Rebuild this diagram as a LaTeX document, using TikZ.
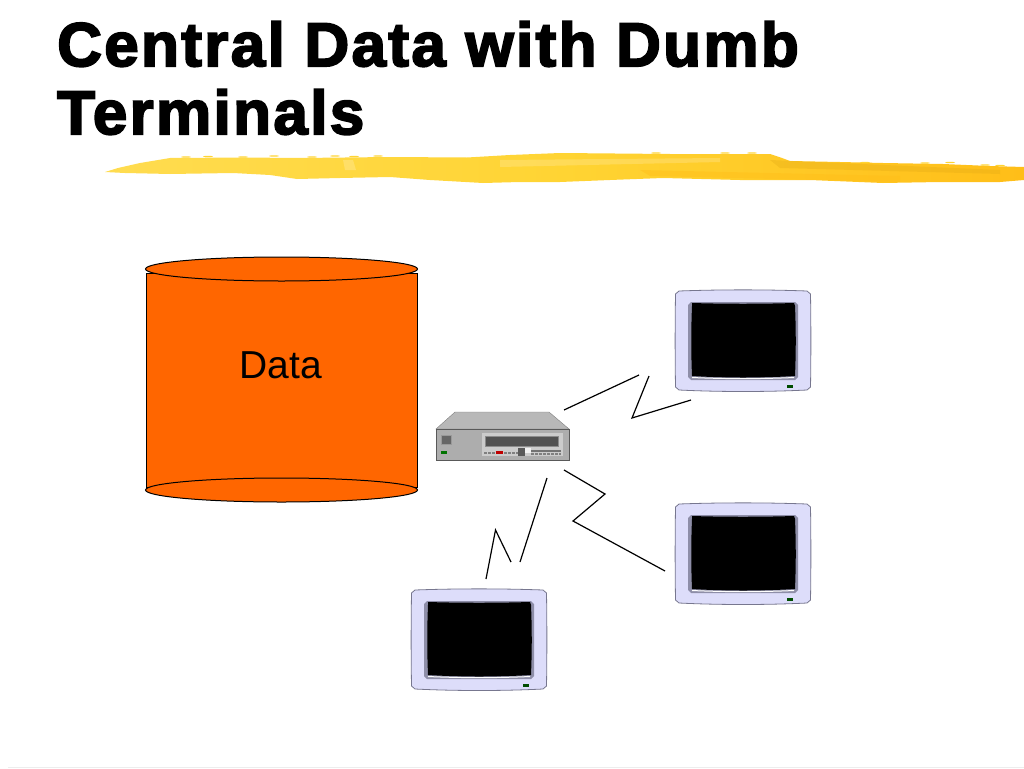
\documentclass[tikz,border=0pt]{standalone}
\usepackage{fontspec}
\usetikzlibrary{shapes.geometric}
\setmainfont{Liberation Sans}
\newfontfamily\titlefont[LetterSpace=3.8,BoldFeatures={FakeBold=3}]{Liberation Sans}
\definecolor{tankorange}{HTML}{FF6600}
\definecolor{monitorblue}{HTML}{DDDDFA}
\definecolor{monitoredge}{HTML}{77778F}
\definecolor{bezelgray}{HTML}{8E8EA8}
\definecolor{brushlight}{HTML}{FFDC50}
\definecolor{brushmid}{HTML}{FFD433}
\definecolor{brushdark}{HTML}{FFBE18}
\tikzset{
    wire/.style={line width=1.2pt,black},
    tank/.style={draw=black,line width=1pt,fill=tankorange},
    monitorbody/.style={draw=monitoredge,line width=0.8pt,fill=monitorblue},
}
\newcommand{\drawmonitor}[2]{
    \begin{scope}[shift={(#1,#2)}]
        \draw[monitorbody] (4,0) .. controls (45,-1.5) and (91,-1.5) .. (132,0) -- (135.5,3)
            .. controls (136,35) and (136,65) .. (135.5,96) -- (132,99)
            .. controls (91,101) and (45,101) .. (4,99) -- (0.5,96)
            .. controls (0,65) and (0,35) .. (0.5,3) -- cycle;
        \fill[bezelgray] (16,11) -- (120,11) -- (123,14) -- (123,86) -- (120,89) -- (16,89) -- (13,86) -- (13,14) -- cycle;
        \fill[black] (17,12) .. controls (50,13) and (86,13) .. (119,12) -- (120,15)
            .. controls (121,40) and (121,60) .. (120,85)
            .. controls (86,87) and (50,87) .. (17,85)
            .. controls (16,60) and (16,40) .. (17,15) -- cycle;
        \draw[white,line width=1pt] (17,86.5) .. controls (50,88) and (86,88) .. (119,86.5);
        \fill[black!70!green] (112,94) rectangle (118,96.5);
    \end{scope}
}
\begin{document}
\begin{tikzpicture}[x=1pt,y=-1pt]
    \useasboundingbox (0,0) rectangle (1024,768);
    \fill[black!7] (8,767) rectangle (1024,768);
    % title
    \node[anchor=north west,inner sep=0pt,align=left,font=\titlefont\bfseries\fontsize{62}{68}\selectfont] (title) at (57,21) {Central Data with Dumb\\Terminals};
    % brush stroke
    \shade[left color=brushlight,right color=brushdark,middle color=brushmid]
        (105,172) -- (118,168) -- (140,163) -- (170,158) -- (240,157.5) -- (300,158) -- (390,157) -- (467,157.5) -- (510,155) -- (560,153) -- (670,154) -- (770,154) -- (782,158) -- (790,161)
        -- (840,162) -- (883,163) -- (943,164) -- (990,166) -- (1024,167) -- (1024,180) -- (1000,182) -- (940,182) -- (883,183) -- (810,180) -- (740,180) -- (663,178) -- (610,180) -- (560,182)
        -- (520,182) -- (483,183) -- (430,180) -- (390,177) -- (340,178) -- (297,179) -- (270,175) -- (233,173) -- (170,174) -- (125,173) -- cycle;
    \fill[brushdark!90!black,opacity=0.35] (770,160) -- (1000,170) -- (1000,174) -- (780,168) -- cycle;
    \fill[brushdark,opacity=0.45] (640,170) -- (900,176) -- (900,182) -- (650,176) -- cycle;
    \fill[white,opacity=0.18] (500,160) -- (720,158) -- (720,162) -- (500,167) -- cycle;
    \fill[white,opacity=0.2] (343,160) -- (353,160) -- (356,170) -- (345,170) -- cycle;
    % torn flecks along the edges
    \foreach \fx/\fy in {186/157,208/156.5,243/157,274/156,312/157,335/156,354/156.5,378/156,656/153,725/153,752/153,865/162.5,925/163,950/162.5,985/165,1000/165.5}
        \fill[brushmid] (\fx,\fy) ellipse (5pt and 0.7pt);
    % data
    \draw[tank] (146,273) rectangle (417,487);
    \node[tank,ellipse,minimum width=272pt,minimum height=24pt,inner sep=0pt] (bottomcap) at (281.5,490) {};
    \node[tank,ellipse,minimum width=272pt,minimum height=24pt,inner sep=0pt] (topcap) at (281.5,269) {};
    \node[font=\fontsize{39}{39}\selectfont] (data) at (281,365) {Data};
    % server
    \fill[black!55] (439,459) rectangle (447,461);
    \fill[black!55] (557,459) rectangle (565,461);
    \fill[black!28,draw=black!50,line width=0.4pt] (436,429) -- (455,412) -- (549,412) -- (569,429) -- cycle;
    \fill[black!32,draw=black!65,line width=0.8pt] (436,429) rectangle (569,460);
    \fill[black!20] (482,433) rectangle (563,456);
    \fill[black!68,draw=black!45,line width=0.4pt] (485,436) rectangle (558,446);
    \fill[black!60,draw=black!40,line width=0.4pt] (441,435) rectangle (451,444);
    \fill[green!45!black] (441,451) rectangle (447,454);
    \draw[black!50,line width=2pt,dash pattern=on 3pt off 1pt] (484,452.5) -- (518,452.5);
    \fill[red!75!black] (496,451) rectangle (503,454);
    \fill[black!55] (531,450) rectangle (561,452);
    \draw[black!50,line width=1.5pt,dash pattern=on 3pt off 1pt] (531,454) -- (561,454);
    \fill[black!65] (518,448) rectangle (525,456);
    \fill[black!5] (525,448) rectangle (531,453);
    % links
    \coordinate (linkA0) at (564,410);
    \coordinate (linkA1) at (639,375);
    \coordinate (linkA2) at (649,376);
    \coordinate (linkA3) at (632,418);
    \coordinate (linkA4) at (691,400);
    \draw[wire] (linkA0) -- (linkA1);
    \draw[wire] (linkA2) -- (linkA3) -- (linkA4);
    \coordinate (linkB0) at (564,470);
    \coordinate (linkB1) at (605,494);
    \coordinate (linkB2) at (573,521);
    \coordinate (linkB3) at (665,571);
    \draw[wire] (linkB0) -- (linkB1) -- (linkB2) -- (linkB3);
    \coordinate (linkC0) at (547,478);
    \coordinate (linkC1) at (520,562);
    \coordinate (linkC2) at (511,562);
    \coordinate (linkC3) at (495.5,530);
    \coordinate (linkC4) at (486,579);
    \draw[wire] (linkC0) -- (linkC1);
    \draw[wire] (linkC2) -- (linkC3) -- (linkC4);
    % monitors
    \drawmonitor{675}{291}
    \drawmonitor{675}{504}
    \drawmonitor{411}{590}
\end{tikzpicture}
\end{document}
